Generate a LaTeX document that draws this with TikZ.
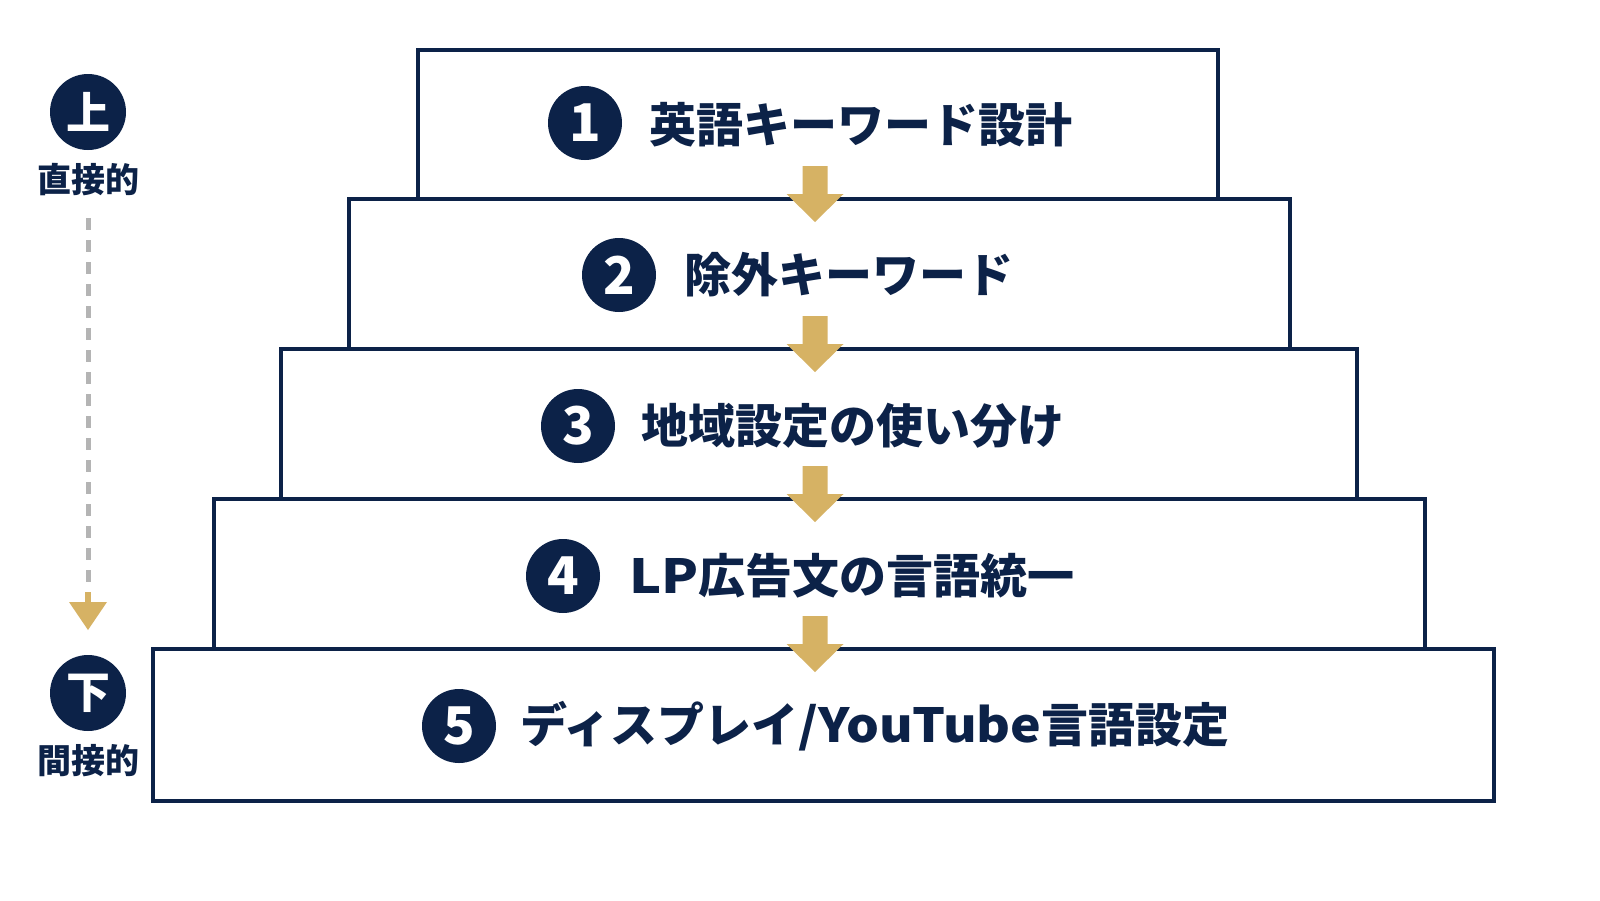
\documentclass[tikz,border=0pt]{standalone}
\usepackage{fontspec}
\setmainfont{Noto Sans CJK JP}
\usetikzlibrary{calc}
\definecolor{navy}{HTML}{0C2248}
\definecolor{gold}{HTML}{D6B264}
\definecolor{dashgray}{HTML}{B4B4B4}
\newcommand{\gldarrow}[1]{%
  \fill[gold] ($(#1)+(-12.5,-31)$) -- ($(#1)+(12.5,-31)$) -- ($(#1)+(12.5,-3)$)
    -- ($(#1)+(28.5,-3)$) -- ($(#1)+(0,25)$) -- ($(#1)+(-28.5,-3)$)
    -- ($(#1)+(-12.5,-3)$) -- cycle;}
\newcommand{\widelatin}[2]{\scalebox{#1}[1]{#2}}
\begin{document}
\begin{tikzpicture}[x=1pt,y=-1pt,
  stepbox/.style={draw=navy, line width=4pt, fill=white, anchor=north west, inner sep=0pt},
  numc/.style={circle, fill=navy, minimum size=74pt, inner sep=0pt, text=white,
    font=\fontsize{52}{52}\selectfont\bfseries},
  lbl/.style={anchor=west, inner sep=0pt, text=navy,
    font=\fontsize{47}{47}\selectfont\bfseries},
  sidec/.style={circle, fill=navy, minimum size=76pt, inner sep=0pt, text=white,
    font=\fontsize{44}{44}\selectfont\bfseries},
  sidel/.style={inner sep=0pt, text=navy, font=\fontsize{34}{34}\selectfont\bfseries}]
\useasboundingbox (0,0) rectangle (1600,900);
\fill[white] (0,0) rectangle (1600,900);

% boxes
\node[stepbox, minimum width=800pt, minimum height=149pt] (b1) at (416,48) {};
\node[stepbox, minimum width=941pt, minimum height=150pt] (b2) at (347,197) {};
\node[stepbox, minimum width=1076pt, minimum height=150pt] (b3) at (279,347) {};
\node[stepbox, minimum width=1211pt, minimum height=150pt] (b4) at (212,497) {};
\node[stepbox, minimum width=1341pt, minimum height=152pt] (b5) at (151,647) {};

% arrows between steps
\coordinate (a12) at (815,197);
\coordinate (a23) at (815,347);
\coordinate (a34) at (815,497);
\coordinate (a45) at (815,647);
\gldarrow{a12}
\gldarrow{a23}
\gldarrow{a34}
\gldarrow{a45}

% numbers and labels
\node[numc] (n1) at (585,123) {1};
\node[lbl] (t1) at (649,125) {英語キーワード設計};
\node[numc] (n2) at (619,275) {2};
\node[lbl] (t2) at (684,275) {除外キーワード};
\node[numc] (n3) at (578,426) {3};
\node[lbl] (t3) at (641,426) {地域設定の使い分け};
\node[numc] (n4) at (563,576) {4};
\node[lbl] (t4) at (629,576) {\widelatin{1.15}{LP}広告文の言語統一};
\node[numc] (n5) at (459,726) {5};
\node[lbl] (t5) at (520,726) {ディスプレイ\widelatin{1.1}{/YouTube}言語設定};

% side scale
\node[sidec] (up) at (88,112) {上};
\node[sidel] (dj) at (88,180) {直接的};
\node[sidec] (dn) at (88,693) {下};
\node[sidel] (ij) at (88,761) {間接的};
\coordinate (ds) at (88,218);
\coordinate (de) at (88,592);
\draw[dashgray, line width=5pt, dash pattern=on 12pt off 10pt] (ds) -- (de);
\fill[gold] ($(de)+(-3,0)$) rectangle ($(de)+(3,11)$);
\fill[gold] ($(de)+(-19,10)$) -- ($(de)+(19,10)$) -- ($(de)+(0,38)$) -- cycle;
\end{tikzpicture}
\end{document}
